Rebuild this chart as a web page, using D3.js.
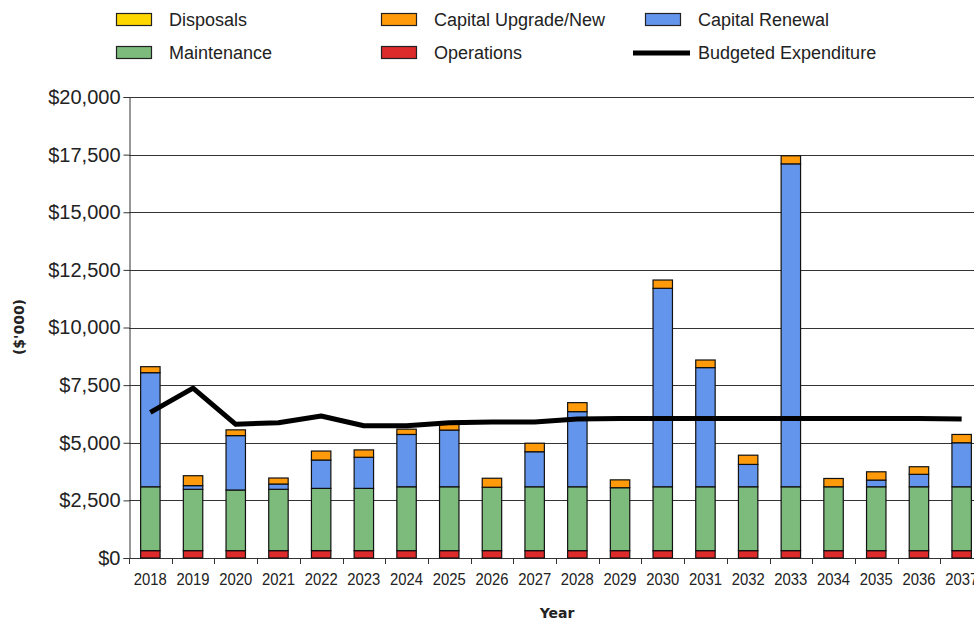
<!DOCTYPE html>
<html>
<head>
<meta charset="utf-8">
<script src="https://cdn.jsdelivr.net/npm/d3@7"></script>
<style>
  body { margin: 0; background: #fff; }
  svg { display: block; font-family: "Liberation Sans", Arial, sans-serif; }
</style>
</head>
<body>
<div id="chart"></div>
<script>
// values in $'000
var years = ["2018", "2019", "2020", "2021", "2022", "2023", "2024", "2025", "2026", "2027",
             "2028", "2029", "2030", "2031", "2032", "2033", "2034", "2035", "2036", "2037"];

var operations = [320, 320, 320, 320, 320, 320, 320, 320, 320, 320,
                  320, 320, 320, 320, 320, 320, 320, 320, 320, 320];
var maintenance = [2770, 2660, 2630, 2660, 2700, 2700, 2770, 2770, 2750, 2770,
                   2770, 2730, 2770, 2770, 2770, 2770, 2770, 2770, 2770, 2770];
var capitalRenewal = [4950, 160, 2360, 230, 1230, 1350, 2270, 2460, 0, 1520,
                      3260, 0, 8610, 5170, 970, 14010, 0, 290, 540, 1910];
var capitalUpgrade = [260, 430, 250, 260, 390, 320, 230, 250, 390, 370,
                      390, 340, 360, 330, 400, 350, 360, 360, 330, 360];
var disposals = [0, 0, 0, 0, 0, 0, 0, 0, 0, 0,
                 0, 0, 0, 0, 0, 0, 0, 0, 0, 0];
var budgeted = [6320, 7370, 5800, 5870, 6160, 5740, 5740, 5870, 5900, 5900,
                6030, 6050, 6050, 6050, 6050, 6050, 6050, 6050, 6050, 6030];

var yTicks = [0, 2500, 5000, 7500, 10000, 12500, 15000, 17500, 20000];

var seriesKeys = ["Operations", "Maintenance", "Capital Renewal", "Capital Upgrade/New", "Disposals"];
var colors = {
  "Disposals": "#ffd700",
  "Capital Upgrade/New": "#ff9a0a",
  "Capital Renewal": "#6495ed",
  "Maintenance": "#7cbb7c",
  "Operations": "#dd2a2a"
};

// table for d3.stack
var rows = years.map(function(y, i) {
  return {
    year: y,
    "Operations": operations[i],
    "Maintenance": maintenance[i],
    "Capital Renewal": capitalRenewal[i],
    "Capital Upgrade/New": capitalUpgrade[i],
    "Disposals": disposals[i]
  };
});

var width = 974, height = 621;
var margin = { top: 97, left: 129, bottom: 63 };
var plotBottom = height - margin.bottom;   // y of $0
var step = 42.7;

var svg = d3.select("#chart").append("svg")
  .attr("width", width)
  .attr("height", height);

svg.append("rect").attr("width", width).attr("height", height).attr("fill", "#fff");

var x = d3.scaleBand()
  .domain(years)
  .range([margin.left, margin.left + step * years.length])
  .paddingInner(0.545)
  .paddingOuter(0.2725);

var y = d3.scaleLinear()
  .domain([0, 20000])
  .range([plotBottom, margin.top]);

// gridlines
svg.append("g")
  .selectAll("line")
  .data(yTicks)
  .enter().append("line")
  .attr("x1", margin.left)
  .attr("x2", width)
  .attr("y1", function(d) { return Math.round(y(d)) + 0.5; })
  .attr("y2", function(d) { return Math.round(y(d)) + 0.5; })
  .attr("stroke", "#333")
  .attr("stroke-width", 1);

// y axis
var yAxis = d3.axisLeft(y)
  .tickValues(yTicks)
  .tickSize(6)
  .tickPadding(3)
  .tickFormat(function(d) { return "$" + d3.format(",")(d); });

var gy = svg.append("g")
  .attr("transform", "translate(" + (margin.left + 0.5) + ",0)")
  .call(yAxis);
gy.select(".domain").attr("stroke", "#333");
gy.selectAll(".tick line").attr("stroke", "#333");
gy.selectAll(".tick text")
  .attr("font-family", "'Liberation Sans', Arial, sans-serif")
  .attr("font-size", 20)
  .attr("fill", "#222");

// x axis: ticks on the category boundaries
svg.append("line")
  .attr("x1", margin.left).attr("x2", width)
  .attr("y1", plotBottom + 0.5).attr("y2", plotBottom + 0.5)
  .attr("stroke", "#333");

svg.append("g")
  .selectAll("line")
  .data(d3.range(years.length + 1))
  .enter().append("line")
  .attr("x1", function(i) { return Math.round(margin.left + i * x.step()) + 0.5; })
  .attr("x2", function(i) { return Math.round(margin.left + i * x.step()) + 0.5; })
  .attr("y1", plotBottom)
  .attr("y2", plotBottom + 6)
  .attr("stroke", "#333");

svg.append("g")
  .selectAll("text")
  .data(years)
  .enter().append("text")
  .attr("x", function(d) { return x(d) + x.bandwidth() / 2; })
  .attr("y", plotBottom + 27)
  .attr("text-anchor", "middle")
  .attr("font-size", 17)
  .attr("textLength", 33)
  .attr("lengthAdjust", "spacingAndGlyphs")
  .attr("fill", "#222")
  .text(function(d) { return d; });

// stacked bars
var stacked = d3.stack().keys(seriesKeys)(rows);

svg.append("g")
  .selectAll("g")
  .data(stacked)
  .enter().append("g")
  .attr("fill", function(s) { return colors[s.key]; })
  .selectAll("rect")
  .data(function(s) { return s.filter(function(d) { return d[1] > d[0]; }); })
  .enter().append("rect")
  .attr("x", function(d) { return x(d.data.year); })
  .attr("y", function(d) { return y(d[1]); })
  .attr("width", x.bandwidth())
  .attr("height", function(d) { return y(d[0]) - y(d[1]); })
  .attr("stroke", "#111")
  .attr("stroke-width", 1.2);

// budgeted expenditure line
var line = d3.line()
  .x(function(d, i) { return x(years[i]) + x.bandwidth() / 2; })
  .y(function(d) { return y(d); });

svg.append("path")
  .datum(budgeted)
  .attr("d", line)
  .attr("fill", "none")
  .attr("stroke", "#000")
  .attr("stroke-width", 5)
  .attr("stroke-linejoin", "round");

// axis titles
svg.append("text")
  .attr("x", 557)
  .attr("y", 618)
  .attr("text-anchor", "middle")
  .attr("font-family", "'DejaVu Sans', Verdana, sans-serif")
  .attr("font-weight", "bold")
  .attr("font-size", 14)
  .attr("fill", "#222")
  .text("Year");

svg.append("text")
  .attr("transform", "translate(24,327) rotate(-90)")
  .attr("text-anchor", "middle")
  .attr("font-family", "'DejaVu Sans', Verdana, sans-serif")
  .attr("font-weight", "bold")
  .attr("font-size", 14)
  .attr("fill", "#222")
  .text("($'000)");

// legend
var legendItems = [
  { name: "Disposals", x: 116, y: 20, type: "box" },
  { name: "Capital Upgrade/New", x: 381, y: 20, type: "box" },
  { name: "Capital Renewal", x: 645, y: 20, type: "box" },
  { name: "Maintenance", x: 116, y: 53, type: "box" },
  { name: "Operations", x: 381, y: 53, type: "box" },
  { name: "Budgeted Expenditure", x: 633, y: 53, type: "line" }
];

var legend = svg.append("g")
  .selectAll("g")
  .data(legendItems)
  .enter().append("g");

legend.filter(function(d) { return d.type === "box"; })
  .append("rect")
  .attr("x", function(d) { return d.x + 0.5; })
  .attr("y", function(d) { return d.y - 6.5; })
  .attr("width", 35)
  .attr("height", 12)
  .attr("fill", function(d) { return colors[d.name]; })
  .attr("stroke", "#222")
  .attr("stroke-width", 1.2);

legend.filter(function(d) { return d.type === "line"; })
  .append("line")
  .attr("x1", function(d) { return d.x; })
  .attr("x2", function(d) { return d.x + 57; })
  .attr("y1", function(d) { return d.y; })
  .attr("y2", function(d) { return d.y; })
  .attr("stroke", "#000")
  .attr("stroke-width", 5);

legend.append("text")
  .attr("x", function(d) { return d.type === "line" ? d.x + 65 : d.x + 53; })
  .attr("y", function(d) { return d.y; })
  .attr("dy", "0.35em")
  .attr("font-size", 18)
  .attr("fill", "#222")
  .text(function(d) { return d.name; });
</script>
</body>
</html>
